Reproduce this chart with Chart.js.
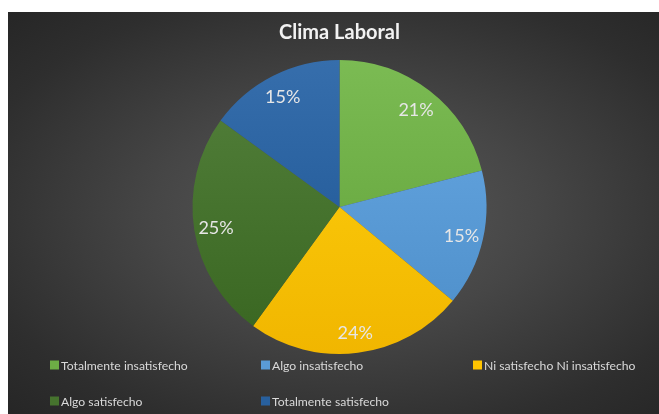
<!DOCTYPE html>
<html>
<head>
<meta charset="utf-8">
<script src="https://cdn.jsdelivr.net/npm/chart.js@4"></script>
<style>
    html, body { margin: 0; padding: 0; background: #fff; }
    #wrap {
        position: absolute;
        left: 8px; top: 12px;
        width: 651px; height: 402px;
        background: radial-gradient(ellipse at 52% 50%, #5a5a5a 0%, #464646 40%, #2e2e2e 80%, #262626 100%);
    }
</style>
</head>
<body>
<div id="wrap"><canvas id="pie"></canvas></div>
<script>
// Data
const categories = ['Totalmente insatisfecho', 'Algo insatisfecho', 'Ni satisfecho Ni insatisfecho', 'Algo satisfecho', 'Totalmente satisfecho'];
const percentages = [21, 15, 24, 25, 15];
const sliceColors = ['#6dad45', '#5a9bd6', '#ffc400', '#46732e', '#28609e'];

const FONT = 'Lato, "Open Sans", sans-serif';

// slight top-to-bottom shading like the Office style
const shade = (hex, amt) => {
    const n = parseInt(hex.slice(1), 16);
    const c = [(n >> 16) & 255, (n >> 8) & 255, n & 255].map(v => Math.max(0, Math.min(255, Math.round(v + amt))));
    return `rgb(${c[0]},${c[1]},${c[2]})`;
};

const sliceFill = (ctx) => {
    const chart = ctx.chart;
    const area = chart.chartArea;
    const base = sliceColors[ctx.dataIndex];
    if (!area) return base;
    const g = chart.ctx.createLinearGradient(0, area.top, 0, area.bottom);
    g.addColorStop(0, shade(base, 14));
    g.addColorStop(1, shade(base, -14));
    return g;
};

// Percent labels inside the slices
const sliceLabels = {
    id: 'sliceLabels',
    afterDatasetsDraw(chart) {
        const ctx = chart.ctx;
        const meta = chart.getDatasetMeta(0);
        ctx.save();
        ctx.font = `18px ${FONT}`;
        ctx.fillStyle = '#e6e6e6';
        ctx.textAlign = 'center';
        ctx.textBaseline = 'middle';
        meta.data.forEach((arc, i) => {
            const mid = (arc.startAngle + arc.endAngle) / 2;
            const r = arc.outerRadius * 0.85;
            ctx.fillText(percentages[i] + '%', arc.x + Math.cos(mid) * r, arc.y + Math.sin(mid) * r + 2);
        });
        ctx.restore();
    }
};

// Grid legend (3 columns) drawn from the labels
const gridLegend = {
    id: 'gridLegend',
    afterDraw(chart) {
        const ctx = chart.ctx;
        const colX = [42, 253, 465];
        const rowY = [353, 389];
        ctx.save();
        ctx.font = `12.2px ${FONT}`;
        ctx.textBaseline = 'middle';
        ctx.textAlign = 'left';
        chart.data.labels.forEach((label, i) => {
            const x = colX[i % 3];
            const y = rowY[Math.floor(i / 3)];
            ctx.fillStyle = sliceColors[i];
            ctx.fillRect(x, y - 4.5, 9, 9);
            ctx.fillStyle = '#d9d9d9';
            ctx.fillText(label, x + 11, y + 1);
        });
        ctx.restore();
    }
};

new Chart(document.getElementById('pie'), {
    type: 'pie',
    data: {
        labels: categories,
        datasets: [{
            data: percentages,
            backgroundColor: sliceFill,
            borderWidth: 0
        }]
    },
    options: {
        responsive: true,
        maintainAspectRatio: false,
        animation: false,
        layout: { padding: { left: 12, right: 0, top: 0, bottom: 60 } },
        plugins: {
            legend: { display: false },
            tooltip: { enabled: false },
            title: {
                display: true,
                text: 'Clima Laboral',
                color: '#f2f2f2',
                font: { family: FONT, size: 20, weight: 'bold', lineHeight: 1.2 },
                padding: { top: 9, bottom: 15 }
            }
        }
    },
    plugins: [sliceLabels, gridLegend]
});
</script>
</body>
</html>
